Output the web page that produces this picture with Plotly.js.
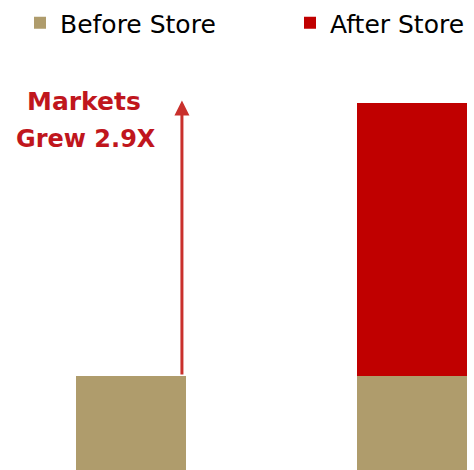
<!DOCTYPE html>
<html><head><meta charset="utf-8">
<script src="https://cdn.plot.ly/plotly-3.0.1.min.js"></script>
<style>html,body{margin:0;padding:0;background:#fff;}#chart{width:474px;height:470px;}</style>
</head><body><div id="chart"></div>
<script>
var categories = ["Before", "After"];
var beforeStore = [1, 1];
var afterStore = [0, 2.9];
var seriesNames = ["Before Store", "After Store"];
var growthLabel = ["Markets", "Grew 2.9X"];

var W = 474, H = 470;
var traces = [
  {type: "bar", x: categories, y: beforeStore, name: seriesNames[0], marker: {color: "#af9c6c"}, width: 0.39, legend: "legend", showlegend: true, hoverinfo: "none"},
  {type: "bar", x: categories, y: afterStore, name: seriesNames[1], marker: {color: "#c00000"}, width: 0.39, legend: "legend2", showlegend: true, hoverinfo: "none"}
];
var layout = {
  width: W, height: H,
  showlegend: true,
  margin: {l: 0, r: 0, t: 0, b: 0},
  paper_bgcolor: "#fff", plot_bgcolor: "#fff",
  barmode: "stack",
  xaxis: {type: "category", range: [-0.466, 1.221], showgrid: false, zeroline: false, showticklabels: false, showline: false, ticks: ""},
  yaxis: {range: [0, 5], showgrid: false, zeroline: false, showticklabels: false, showline: false, ticks: ""},
  font: {family: "DejaVu Sans", color: "#111"},
  legend: {visible: true, x: 20 / W, xanchor: "left", y: 1, yanchor: "top", orientation: "h", font: {family: "DejaVu Sans", size: 25, color: "#000"}, bgcolor: "rgba(0,0,0,0)"},
  legend2: {visible: true, x: 290 / W, xanchor: "left", y: 1, yanchor: "top", orientation: "h", font: {family: "DejaVu Sans", size: 25, color: "#000"}, bgcolor: "rgba(0,0,0,0)"},
  annotations: [
    {x: 0.1815, y: 3.93, xref: "x", yref: "y", ax: 0.1815, ay: beforeStore[0], axref: "x", ayref: "y", text: "", showarrow: true, arrowhead: 2, arrowsize: 1, arrowwidth: 3, arrowcolor: "#c9302c", standoff: 0, startstandoff: 0},
    {x: 84 / W, y: 1 - 101 / H, xref: "paper", yref: "paper", text: growthLabel[0], showarrow: false, xanchor: "center", yanchor: "middle", font: {family: "DejaVu Sans", size: 25, color: "#c0161d", weight: "bold"}},
    {x: 86 / W, y: 1 - 139 / H, xref: "paper", yref: "paper", text: growthLabel[1], showarrow: false, xanchor: "center", yanchor: "middle", font: {family: "DejaVu Sans", size: 24, color: "#c0161d", weight: "bold"}}
  ]
};
Plotly.newPlot("chart", traces, layout, {staticPlot: true, displayModeBar: false});
</script></body></html>
